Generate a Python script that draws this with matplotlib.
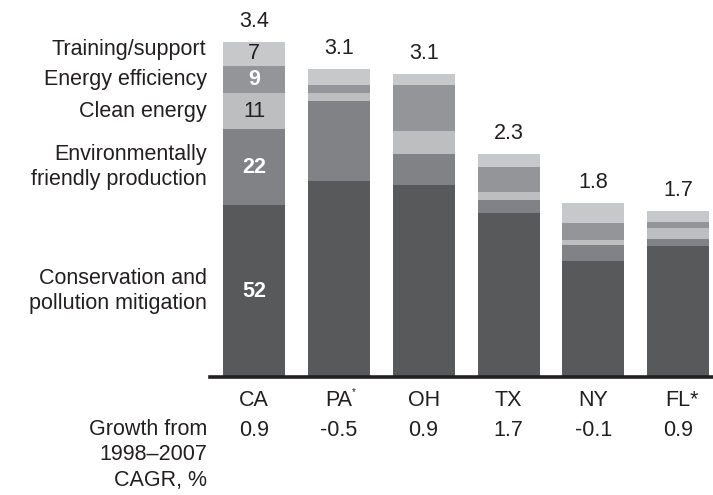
import matplotlib
matplotlib.use("Agg")
import matplotlib.pyplot as plt
import numpy as np

plt.rcParams['font.family'] = ['Liberation Sans', 'DejaVu Sans']

# values (height of each segment, same units as the totals)
states = ['CA', 'PA', 'OH', 'TX', 'NY', 'FL*']
totals = ['3.4', '3.1', '3.1', '2.3', '1.8', '1.7']
growth = ['0.9', '-0.5', '0.9', '1.7', '-0.1', '0.9']
conservation = [1.74, 1.98, 1.94, 1.66, 1.17, 1.33]
env_production = [0.77, 0.81, 0.32, 0.13, 0.17, 0.07]
clean_energy = [0.36, 0.08, 0.23, 0.08, 0.05, 0.11]
efficiency = [0.28, 0.09, 0.47, 0.26, 0.17, 0.06]
training = [0.24, 0.16, 0.11, 0.13, 0.20, 0.11]
ca_share = [52, 22, 11, 9, 7]
seg_names = ['Conservation and\npollution mitigation',
             'Environmentally\nfriendly production',
             'Clean energy', 'Energy efficiency', 'Training/support']

colors = ['#58595b', '#808285', '#bcbec0', '#939598', '#c7c8ca']
txt = '#231f20'

W, H = 713, 495
fig = plt.figure(figsize=(W / 100, H / 100), dpi=100)
base_y = 377
ax = fig.add_axes([210 / W, 1 - base_y / H, 1 - 210 / W, base_y / H])

x = np.arange(len(states))
series = [conservation, env_production, clean_energy, efficiency, training]
bottom = np.zeros(len(states))
for vals, c in zip(series, colors):
    ax.bar(x, vals, width=0.73, bottom=bottom, color=c, edgecolor='none')
    bottom += np.array(vals)

ax.set_xlim(-0.519, 5.41)
ax.set_ylim(0, base_y / 98.8)
for s in ['top', 'right', 'left']:
    ax.spines[s].set_visible(False)
ax.spines['bottom'].set_linewidth(2.6)
ax.spines['bottom'].set_color(txt)
ax.set_xticks([])
ax.set_yticks([])

fs = 15.5

# totals above bars
for i, t in enumerate(totals):
    ax.annotate(t, (x[i], bottom[i]), xytext=(0, 7), textcoords='offset points',
                ha='center', va='bottom', fontsize=fs, color=txt)

# CA segment shares and category labels on the left
ca_bot = 0
for k, vals in enumerate(series):
    mid = ca_bot + vals[0] / 2
    white = k in (0, 1, 3)
    ax.text(0, mid, str(ca_share[k]), ha='center', va='center', fontsize=fs,
            color='white' if white else txt,
            fontweight='bold' if white else 'normal')
    lab_mid = mid + (0.04 if k == 4 else 0)
    ax.text(-0.56, lab_mid, seg_names[k], ha='right', va='center', fontsize=fs,
            color=txt, linespacing=1.2, clip_on=False)
    ca_bot += vals[0]

# state labels and growth row
lab_y = 1 - 400 / H
gr_y = 1 - 430 / H
for i, s in enumerate(states):
    xp = (254 + i * 84.8) / W
    dx = 4 / W if s.endswith('*') else 0
    fig.text(xp + dx, lab_y, s, ha='center', va='center', fontsize=fs, color=txt)
    fig.text(xp, gr_y, growth[i], ha='center', va='center', fontsize=fs, color=txt)
    if s == 'PA':
        fig.text(xp + 13 / W, lab_y + 8 / H, '*', ha='left', va='center',
                 fontsize=7, color=txt)

fig.text(207 / W, 1 - 419 / H, 'Growth from\n1998\u20132007\nCAGR, %', ha='right',
         va='top', fontsize=fs, color=txt, linespacing=1.27)

fig.savefig('out.png', dpi=100)
